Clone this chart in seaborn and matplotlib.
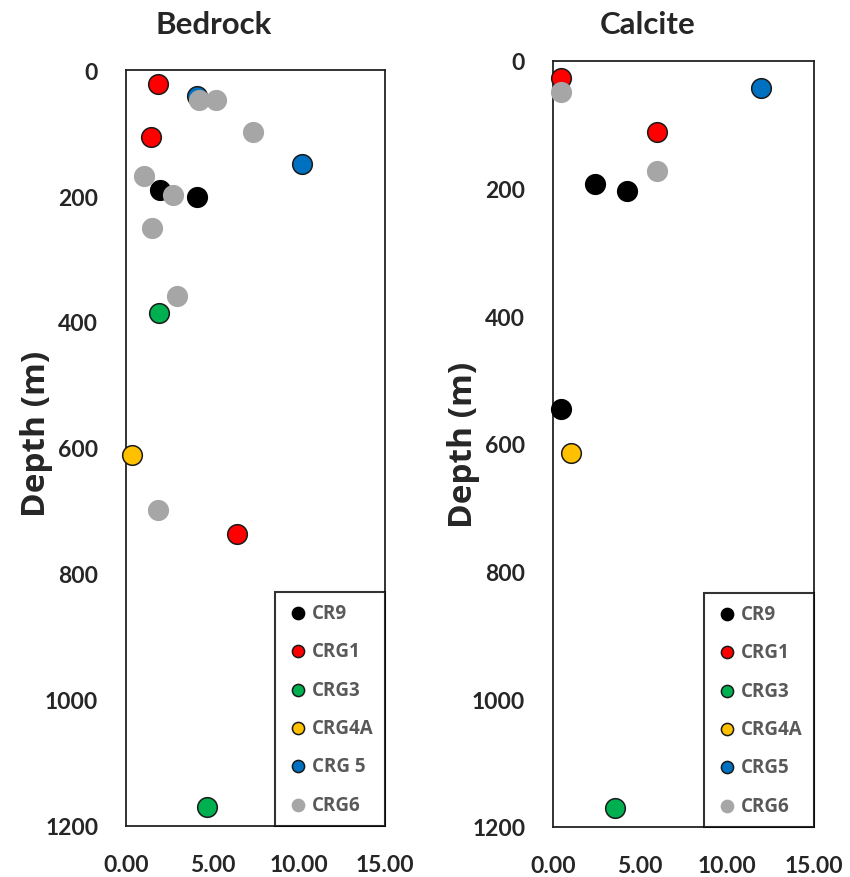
import matplotlib
matplotlib.use("Agg")
import matplotlib.pyplot as plt
import seaborn as sns
import pandas as pd
from matplotlib.ticker import FormatStrFormatter

sns.set_theme(style="white")
plt.rcParams['font.family'] = ['Lato', 'DejaVu Sans']

# ---------------- data ----------------
series_names = ["CR9", "CRG1", "CRG3", "CRG4A", "CRG5", "CRG6"]
bedrock_labels = ["CR9", "CRG1", "CRG3", "CRG4A", "CRG 5", "CRG6"]
calcite_labels = ["CR9", "CRG1", "CRG3", "CRG4A", "CRG5", "CRG6"]

bed_CR9_x = [1.97, 4.09]
bed_CR9_y = [190, 201]
bed_CRG1_x = [1.84, 1.45, 6.45]
bed_CRG1_y = [23, 107, 737]
bed_CRG3_x = [1.93, 4.71]
bed_CRG3_y = [386, 1170]
bed_CRG4A_x = [0.37]
bed_CRG4A_y = [611]
bed_CRG5_x = [4.09, 10.21]
bed_CRG5_y = [41, 149]
bed_CRG6_x = [4.23, 5.19, 7.37, 1.04, 2.74, 1.49, 2.93, 1.83]
bed_CRG6_y = [47, 47, 99, 168, 198, 251, 358, 698]

cal_CR9_x = [2.40, 4.26, 0.48]
cal_CR9_y = [192, 204, 545]
cal_CRG1_x = [0.44, 5.98]
cal_CRG1_y = [26, 111]
cal_CRG3_x = [3.55]
cal_CRG3_y = [1170]
cal_CRG4A_x = [1.02]
cal_CRG4A_y = [614]
cal_CRG5_x = [11.95]
cal_CRG5_y = [43]
cal_CRG6_x = [0.48, 5.98]
cal_CRG6_y = [48, 172]

y_ticks = [0, 200, 400, 600, 800, 1000, 1200]
x_ticks = [0, 5, 10, 15]

colors = {"CR9": "#000000", "CRG1": "#FF0000", "CRG3": "#00B050",
          "CRG4A": "#FFC000", "CRG5": "#0070C0", "CRG6": "#A6A6A6"}
edges = {"CR9": "#000000", "CRG1": "#1a1a1a", "CRG3": "#1a1a1a",
         "CRG4A": "#1a1a1a", "CRG5": "#1a1a1a", "CRG6": "#A6A6A6"}

bed = {"CR9": (bed_CR9_x, bed_CR9_y), "CRG1": (bed_CRG1_x, bed_CRG1_y),
       "CRG3": (bed_CRG3_x, bed_CRG3_y), "CRG4A": (bed_CRG4A_x, bed_CRG4A_y),
       "CRG5": (bed_CRG5_x, bed_CRG5_y), "CRG6": (bed_CRG6_x, bed_CRG6_y)}
cal = {"CR9": (cal_CR9_x, cal_CR9_y), "CRG1": (cal_CRG1_x, cal_CRG1_y),
       "CRG3": (cal_CRG3_x, cal_CRG3_y), "CRG4A": (cal_CRG4A_x, cal_CRG4A_y),
       "CRG5": (cal_CRG5_x, cal_CRG5_y), "CRG6": (cal_CRG6_x, cal_CRG6_y)}

W, H = 850, 878
fig = plt.figure(figsize=(8.5, 8.78), dpi=100)

def box(l, t, r, b):
    return [l / W, 1 - b / H, (r - l) / W, (b - t) / H]

ax1 = fig.add_axes(box(126, 71, 385, 827))
ax2 = fig.add_axes(box(553, 62, 814, 828))

def draw(ax, data, labels, title, title_x, label_x, label_y):
    for name, lab in zip(series_names, labels):
        xs, ys = data[name]
        df = pd.DataFrame({"x": xs, "y": ys})
        sns.scatterplot(data=df, x="x", y="y", ax=ax, color=colors[name],
                        edgecolor=edges[name], linewidth=1.1, s=200,
                        label=lab, clip_on=False, zorder=3)
    ax.set_xlim(0, 15)
    ax.set_ylim(1200, 0)
    ax.set_xticks(x_ticks)
    ax.set_yticks(y_ticks)
    ax.xaxis.set_major_formatter(FormatStrFormatter("%.2f"))
    ax.tick_params(axis="both", length=0, labelsize=16.5, pad=20)
    for lbl in ax.get_xticklabels() + ax.get_yticklabels():
        lbl.set_fontweight("bold")
    ax.set_xlabel("")
    ax.set_ylabel("Depth (m)", fontsize=24, fontweight="bold",
                  family=["Open Sans", "DejaVu Sans"])
    ax.yaxis.set_label_coords(label_x, label_y)
    for sp in ax.spines.values():
        sp.set_visible(True)
        sp.set_color("#222222")
        sp.set_linewidth(1.3)
    leg = ax.legend(loc="lower right", bbox_to_anchor=(1, 0),
                    borderaxespad=0, markerscale=0.62, frameon=True,
                    fancybox=False, edgecolor="black", labelspacing=0.98,
                    handlelength=1.3, handletextpad=0.1, borderpad=0.6,
                    prop={"weight": "bold", "size": 13.5,
                          "family": ["Open Sans", "DejaVu Sans"]})
    leg.get_frame().set_linewidth(1.5)
    for t in leg.get_texts():
        t.set_color("#595959")
    fig.text(title_x / W, 1 - 25 / H, title, ha="center", va="center",
             fontsize=22.5, fontweight="bold")

draw(ax1, bed, bedrock_labels, "Bedrock", 214, -0.28, 0.52)
draw(ax2, cal, calcite_labels, "Calcite", 648, -0.28, 0.50)

fig.savefig("out.png", dpi=100, facecolor="white")
